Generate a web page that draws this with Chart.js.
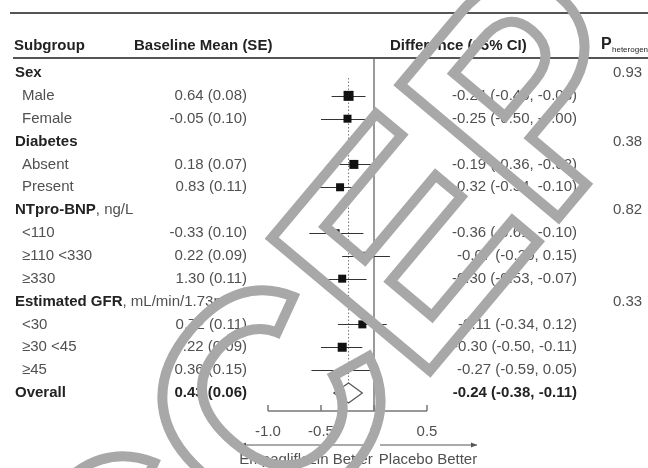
<!DOCTYPE html>
<html>
<head>
<meta charset="utf-8">
<script src="https://cdn.jsdelivr.net/npm/chart.js@4.4.0/dist/chart.umd.min.js"></script>
<style>
  html, body { margin: 0; padding: 0; background: #fff; }
  #wrap { width: 648px; height: 468px; position: relative; }
</style>
</head>
<body>
<div id="wrap"><canvas id="forest"></canvas></div>
<script>
// one entry per table row, top to bottom
const rowLabels = ['Sex', 'Male', 'Female', 'Diabetes', 'Absent', 'Present', 'NTpro-BNP', '<110', '\u2265110 <330', '\u2265330', 'Estimated GFR', '<30', '\u226530 <45', '\u226545', 'Overall'];
const rowUnits = ['', '', '', '', '', '', ', ng/L', '', '', '', ', mL/min/1.73m\u00b2', '', '', '', ''];
const rowKind = ['group', 'sub', 'sub', 'group', 'sub', 'sub', 'group', 'sub', 'sub', 'sub', 'group', 'sub', 'sub', 'sub', 'overall'];
const baselineText = ['', '0.64 (0.08)', '-0.05 (0.10)', '', '0.18 (0.07)', '0.83 (0.11)', '', '-0.33 (0.10)', '0.22 (0.09)', '1.30 (0.11)', '', '0.72 (0.11)', '0.22 (0.09)', '0.36 (0.15)', '0.43 (0.06)'];
const estimate = [null, -0.24, -0.25, null, -0.19, -0.32, null, -0.36, -0.07, -0.30, null, -0.11, -0.30, -0.27, -0.24];
const ciLow = [null, -0.40, -0.50, null, -0.36, -0.54, null, -0.61, -0.30, -0.53, null, -0.34, -0.50, -0.59, -0.38];
const ciHigh = [null, -0.08, -0.00, null, -0.02, -0.10, null, -0.10, 0.15, -0.07, null, 0.12, -0.11, 0.05, -0.11];
const ciText = ['', '-0.24 (-0.40, -0.08)', '-0.25 (-0.50, -0.00)', '', '-0.19 (-0.36, -0.02)', '-0.32 (-0.54, -0.10)', '', '-0.36 (-0.61, -0.10)', '-0.07 (-0.30, 0.15)', '-0.30 (-0.53, -0.07)', '', '-0.11 (-0.34, 0.12)', '-0.30 (-0.50, -0.11)', '-0.27 (-0.59, 0.05)', '-0.24 (-0.38, -0.11)'];
const pHet = ['0.93', '', '', '0.38', '', '', '0.82', '', '', '', '0.33', '', '', '', ''];
const xTicks = [-1.0, -0.5, 0, 0.5];
const xTickLabels = ['-1.0', '-0.5', '0', '0.5'];
const favourLeft = 'Empagliflozin Better';
const favourRight = 'Placebo Better';
const stampText = 'ACCEPTED';

// square side (px) for each row's marker
const boxSide = [0, 10, 8, 0, 9, 8, 0, 7.5, 8, 8, 0, 8, 9, 7, 0];

const FONT = '"Liberation Sans", Arial, sans-serif';
const FS = 15;
const GREY_TEXT = '#505050';
const DARK_TEXT = '#222';

const points = [];
const radii = [];
rowKind.forEach((k, i) => {
  if (k === 'sub') {
    points.push({ x: estimate[i], y: i });
    radii.push(boxSide[i] / Math.SQRT2);
  }
});

// zero line, overall line and whiskers under the boxes
const underlay = {
  id: 'underlay',
  beforeDatasetsDraw(chart) {
    const { ctx, chartArea, scales: { x, y } } = chart;
    ctx.save();
    ctx.strokeStyle = '#9a9a9a';
    ctx.lineWidth = 2;
    ctx.beginPath();
    ctx.moveTo(x.getPixelForValue(0), chartArea.top);
    ctx.lineTo(x.getPixelForValue(0), chartArea.bottom);
    ctx.stroke();

    const overall = rowKind.indexOf('overall');
    ctx.strokeStyle = '#777';
    ctx.lineWidth = 1;
    ctx.setLineDash([1.5, 2]);
    ctx.beginPath();
    ctx.moveTo(x.getPixelForValue(estimate[overall]), chartArea.top + 20);
    ctx.lineTo(x.getPixelForValue(estimate[overall]), y.getPixelForValue(overall) - 8);
    ctx.stroke();
    ctx.setLineDash([]);

    ctx.strokeStyle = '#333';
    ctx.lineWidth = 1.2;
    rowKind.forEach((k, i) => {
      if (k !== 'sub') return;
      const py = Math.round(y.getPixelForValue(i)) + 0.5;
      ctx.beginPath();
      ctx.moveTo(x.getPixelForValue(ciLow[i]), py);
      ctx.lineTo(x.getPixelForValue(ciHigh[i]), py);
      ctx.stroke();
    });
    ctx.restore();
  }
};

// table text, rules, diamond and axis
const table = {
  id: 'table',
  afterDatasetsDraw(chart) {
    const { ctx, chartArea, scales: { x, y } } = chart;
    ctx.save();

    // rules
    ctx.strokeStyle = '#555';
    ctx.lineWidth = 2;
    ctx.beginPath();
    ctx.moveTo(10, 13); ctx.lineTo(648, 13);
    ctx.moveTo(13, chartArea.top); ctx.lineTo(648, chartArea.top);
    ctx.stroke();

    // header
    ctx.fillStyle = DARK_TEXT;
    ctx.textBaseline = 'middle';
    ctx.font = 'bold ' + FS + 'px ' + FONT;
    ctx.textAlign = 'left';
    ctx.fillText('Subgroup', 14, 46);
    ctx.fillText('Baseline Mean (SE)', 134, 46);
    ctx.fillText('Difference (95% CI)', 390, 46);
    ctx.font = 'bold 16px ' + FONT;
    ctx.fillText('P', 601, 45);
    ctx.font = '8px ' + FONT;
    ctx.fillText('heterogeneity', 612, 50);

    // rows
    rowKind.forEach((k, i) => {
      const py = y.getPixelForValue(i);
      const bold = k !== 'sub';
      ctx.textAlign = 'left';
      ctx.fillStyle = bold ? DARK_TEXT : GREY_TEXT;
      ctx.font = (bold ? 'bold ' : '') + FS + 'px ' + FONT;
      const lx = bold ? 15 : 22;
      ctx.fillText(rowLabels[i], lx, py);
      if (rowUnits[i]) {
        const w = ctx.measureText(rowLabels[i]).width;
        ctx.font = FS + 'px ' + FONT;
        ctx.fillStyle = GREY_TEXT;
        ctx.fillText(rowUnits[i], lx + w, py);
      }
      ctx.font = (k === 'overall' ? 'bold ' : '') + FS + 'px ' + FONT;
      ctx.fillStyle = k === 'overall' ? DARK_TEXT : GREY_TEXT;
      ctx.textAlign = 'right';
      if (baselineText[i]) ctx.fillText(baselineText[i], 247, py);
      if (ciText[i]) ctx.fillText(ciText[i], 577, py);
      ctx.textAlign = 'left';
      ctx.font = FS + 'px ' + FONT;
      ctx.fillStyle = GREY_TEXT;
      if (pHet[i]) ctx.fillText(pHet[i], 613, py);
    });

    // overall diamond
    const o = rowKind.indexOf('overall');
    const oy = y.getPixelForValue(o);
    ctx.beginPath();
    ctx.moveTo(x.getPixelForValue(ciLow[o]), oy);
    ctx.lineTo(x.getPixelForValue(estimate[o]), oy - 10);
    ctx.lineTo(x.getPixelForValue(ciHigh[o]), oy);
    ctx.lineTo(x.getPixelForValue(estimate[o]), oy + 10);
    ctx.closePath();
    ctx.fillStyle = '#fff';
    ctx.fill();
    ctx.strokeStyle = '#555';
    ctx.lineWidth = 1.2;
    ctx.stroke();

    // x axis with ticks pointing up
    const ay = chartArea.bottom;
    ctx.strokeStyle = '#777';
    ctx.lineWidth = 1.5;
    ctx.beginPath();
    ctx.moveTo(x.getPixelForValue(xTicks[0]), ay);
    ctx.lineTo(x.getPixelForValue(xTicks[xTicks.length - 1]), ay);
    xTicks.forEach(t => {
      const px = x.getPixelForValue(t);
      ctx.moveTo(px, ay);
      ctx.lineTo(px, ay - 6);
    });
    ctx.stroke();
    ctx.fillStyle = GREY_TEXT;
    ctx.font = FS + 'px ' + FONT;
    ctx.textAlign = 'center';
    xTicks.forEach((t, i) => ctx.fillText(xTickLabels[i], x.getPixelForValue(t), ay + 21));

    // favour arrows
    const zx = x.getPixelForValue(0);
    const arY = ay + 34;
    ctx.strokeStyle = '#555';
    ctx.fillStyle = '#555';
    ctx.lineWidth = 1;
    ctx.beginPath();
    ctx.moveTo(zx - 2, arY); ctx.lineTo(240, arY);
    ctx.moveTo(zx + 6, arY); ctx.lineTo(477, arY);
    ctx.stroke();
    [[240, 1], [477, -1]].forEach(([ax, d]) => {
      ctx.beginPath();
      ctx.moveTo(ax, arY);
      ctx.lineTo(ax + d * 6, arY - 2.5);
      ctx.lineTo(ax + d * 6, arY + 2.5);
      ctx.closePath();
      ctx.fill();
    });
    ctx.fillStyle = GREY_TEXT;
    ctx.fillText(favourLeft, 306, arY + 15);
    ctx.fillText(favourRight, 428, arY + 15);
    ctx.restore();
  }
};

// outlined diagonal stamp over the figure
const watermark = {
  id: 'watermark',
  afterDraw(chart) {
    const { ctx } = chart;
    const fs = 300;
    const th = -50 * Math.PI / 180;
    ctx.save();
    ctx.font = 'bold ' + fs + 'px ' + FONT;
    // put the centre of the second "C" over the baseline column
    const cx = ctx.measureText(stampText.slice(0, 2)).width + ctx.measureText(stampText[2]).width / 2;
    const cy = -0.716 * fs / 2;
    const ox = 265 - (cx * Math.cos(th) - cy * Math.sin(th));
    const oy = 400 - (cx * Math.sin(th) + cy * Math.cos(th));
    ctx.translate(ox, oy);
    ctx.rotate(th);
    ctx.textAlign = 'left';
    ctx.textBaseline = 'alphabetic';
    ctx.strokeStyle = '#a8a8a8';
    ctx.lineWidth = 10;
    ctx.strokeText(stampText, 0, 0);
    ctx.restore();
  }
};

new Chart(document.getElementById('forest'), {
  type: 'scatter',
  data: {
    datasets: [{
      data: points,
      pointStyle: 'rect',
      pointRadius: radii,
      pointHoverRadius: radii,
      backgroundColor: '#111',
      borderColor: '#111',
      borderWidth: 0
    }]
  },
  options: {
    responsive: true,
    maintainAspectRatio: false,
    animation: false,
    layout: { padding: { left: 268, right: 221, top: 58, bottom: 57 } },
    scales: {
      x: { type: 'linear', min: -1.0, max: 0.5, display: false },
      y: { type: 'linear', min: -0.656, max: 14.79, reverse: true, display: false }
    },
    plugins: { legend: { display: false }, tooltip: { enabled: false } }
  },
  plugins: [underlay, table, watermark]
});
</script>
</body>
</html>
